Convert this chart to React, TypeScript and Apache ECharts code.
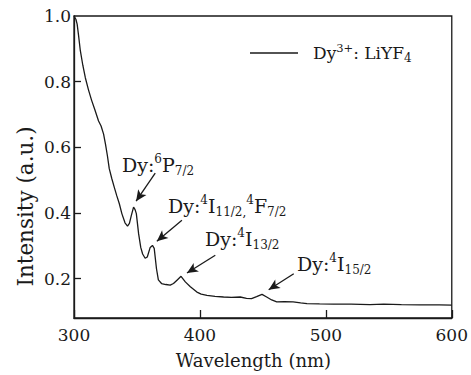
import React, { useEffect, useRef } from 'react';
import * as echarts from 'echarts';

const wavelengths = [
  300, 301.5, 302.5, 303.5, 305, 307, 309, 311.5, 314, 316.5, 319.5, 321.5, 323.5, 325, 326.5, 328, 330, 332, 334, 336,
  338, 340.5, 342.5, 344, 345.5, 347.3, 348.5, 349.5, 351.3, 353, 354.5, 356.5, 358.2, 360.5, 362.3, 363.7, 365.5, 367,
  369.5, 373, 376.4, 379, 382, 385, 388.4, 392.4, 397.6, 401, 405.6, 412, 418.8, 425, 432, 437, 441, 445, 449.3, 453,
  457, 461, 467, 474, 480, 485, 495, 506, 520, 535, 546, 560, 575, 590, 600,
];
const intensities = [
  1.0, 0.99, 0.975, 0.945, 0.895, 0.85, 0.812, 0.775, 0.743, 0.715, 0.68, 0.665, 0.64, 0.61, 0.575, 0.535, 0.505, 0.478,
  0.452, 0.428, 0.398, 0.37, 0.36, 0.368, 0.392, 0.418, 0.41, 0.398, 0.337, 0.295, 0.275, 0.262, 0.266, 0.295, 0.301,
  0.292, 0.23, 0.196, 0.185, 0.182, 0.18, 0.185, 0.196, 0.207, 0.19, 0.175, 0.159, 0.153, 0.149, 0.146, 0.144, 0.143,
  0.144, 0.14, 0.139, 0.145, 0.152, 0.144, 0.135, 0.129, 0.13, 0.129, 0.126, 0.124, 0.123, 0.122, 0.122, 0.121, 0.122,
  0.121, 0.12, 0.12, 0.119,
];
const xTicks = [300, 400, 500, 600];
const yTickLabels = [0.2, 0.4, 0.6, 0.8, 1.0];
const yTickMarks = [0.2, 0.4, 0.6, 0.8];
const seriesName = 'Dy3+: LiYF4';
const arrowTails = [[364.5, 0.521], [385.7, 0.378], [412.2, 0.271], [474.5, 0.215]];
const arrowTips = [[349.3, 0.436], [365.8, 0.314], [389.7, 0.217], [454.6, 0.166]];
const annotationTexts = [
  '{n|Dy:}{sup|6}{n|P}{sub|7/2}',
  '{n|Dy:}{sup|4}{n|I}{sub|11/2,}{sup|4}{n|F}{sub|7/2}',
  '{n|Dy:}{sup|4}{n|I}{sub|13/2}',
  '{n|Dy:}{sup|4}{n|I}{sub|15/2}',
];
const annotationPos = [[122, 164.5], [168, 206], [205, 239], [297, 263.5]];

const FONT = 'DejaVu Serif';
const INK = '#1a1a1a';

const annRich = {
  n: { fontFamily: FONT, fontSize: 19, lineHeight: 24, color: INK },
  sup: { fontFamily: FONT, fontSize: 12, lineHeight: 17, verticalAlign: 'top', color: INK },
  sub: { fontFamily: FONT, fontSize: 12, lineHeight: 9, verticalAlign: 'bottom', color: INK },
};

export default function App() {
  const ref = useRef<HTMLDivElement>(null);
  useEffect(() => {
    if (!ref.current) return;
    const chart = echarts.init(ref.current, undefined, { renderer: 'svg' });
    const data = wavelengths.map((w, i) => [w, intensities[i]]);
    chart.setOption({
      animation: false,
      backgroundColor: '#ffffff',
      textStyle: { fontFamily: FONT },
      grid: {
        left: 74, right: 19, top: 16, bottom: 57,
        show: true, borderColor: INK, borderWidth: 1.3, backgroundColor: 'transparent',
      },
      legend: {
        show: true,
        left: 250,
        top: 42,
        padding: 0,
        itemWidth: 48,
        itemHeight: 1.6,
        icon: 'rect',
        data: [{ name: seriesName, icon: 'rect', itemStyle: { color: INK } }],
        formatter: () => '{gap|}{n|Dy}{sup|3+}{n|: LiYF}{sub|4}',
        textStyle: {
          color: INK,
          fontFamily: FONT,
          rich: {
            gap: { width: 10, lineHeight: 22 },
            n: { fontFamily: FONT, fontSize: 17, lineHeight: 22, color: INK },
            sup: { fontFamily: FONT, fontSize: 11.5, lineHeight: 10, verticalAlign: 'top', color: INK },
            sub: { fontFamily: FONT, fontSize: 12, lineHeight: 16, verticalAlign: 'bottom', color: INK },
          },
        },
      },
      xAxis: {
        type: 'value',
        min: xTicks[0],
        max: xTicks[xTicks.length - 1],
        interval: 100,
        axisLine: { show: true, lineStyle: { color: INK, width: 1.3 } },
        axisTick: { show: true, inside: true, length: 8, lineStyle: { color: INK, width: 1.3 } },
        axisLabel: { color: INK, fontFamily: FONT, fontSize: 17, margin: 8 },
        splitLine: { show: false },
      },
      yAxis: {
        type: 'value',
        min: 0.08,
        max: 1.0,
        axisLine: { show: true, lineStyle: { color: INK, width: 1.3 } },
        axisTick: { show: true, inside: true, length: 7, customValues: yTickMarks, lineStyle: { color: INK, width: 1.3 } },
        axisLabel: {
          color: INK, fontFamily: FONT, fontSize: 17, margin: 3,
          customValues: yTickLabels,
          formatter: (v: number) => v.toFixed(1),
        },
        splitLine: { show: false },
      },
      series: [
        {
          name: seriesName,
          type: 'line',
          data,
          showSymbol: false,
          symbol: 'none',
          lineStyle: { color: INK, width: 1.3 },
          itemStyle: { color: INK },
          markLine: {
            silent: true,
            symbol: ['none', 'arrow'],
            symbolSize: [7.5, 11],
            label: { show: false },
            lineStyle: { color: INK, width: 1.3, type: 'solid' },
            emphasis: { disabled: true },
            data: arrowTails.map((t, i) => [{ coord: t }, { coord: arrowTips[i] }]),
          },
        },
      ],
      graphic: [
        ...annotationTexts.map((t, i) => ({
          type: 'text',
          x: annotationPos[i][0],
          y: annotationPos[i][1],
          silent: true,
          style: {
            text: t,
            rich: annRich,
            fontFamily: FONT,
            align: 'left',
            verticalAlign: 'middle',
            fill: INK,
          },
        })),
        {
          type: 'text',
          x: 253.5,
          y: 360,
          silent: true,
          style: {
            text: 'Wavelength (nm)',
            fontFamily: FONT, fontSize: 18, fill: INK,
            align: 'center', verticalAlign: 'middle',
          },
        },
        {
          type: 'text',
          x: 25,
          y: 206.5,
          rotation: Math.PI / 2,
          silent: true,
          style: {
            text: 'Intensity (a.u.)',
            fontFamily: FONT, fontSize: 21.5, fill: INK,
            align: 'center', verticalAlign: 'middle',
          },
        },
      ],
    });
    return () => chart.dispose();
  }, []);
  return <div ref={ref} style={{ width: 471, height: 375, position: 'absolute', left: 0, top: 0 }} />;
}
